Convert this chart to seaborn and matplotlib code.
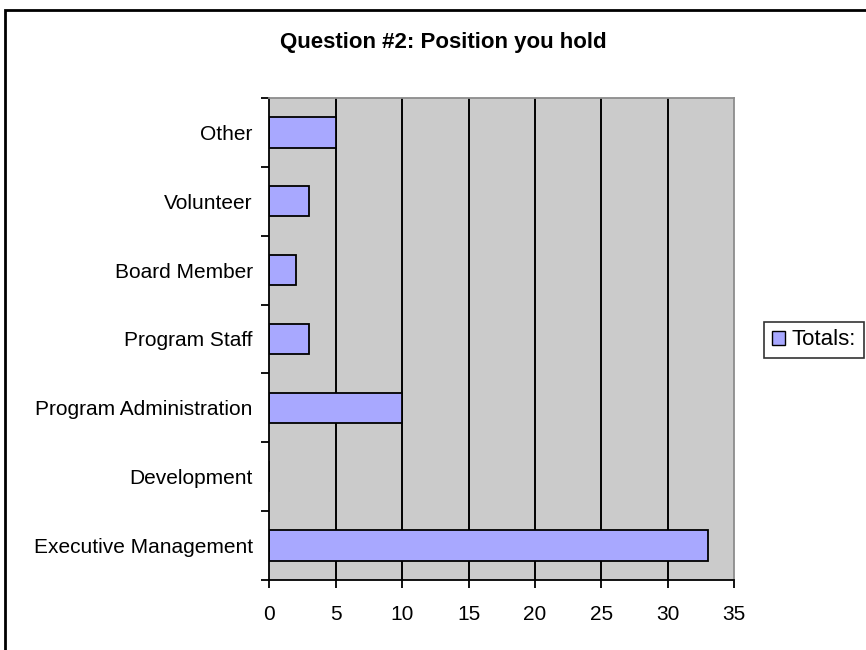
import matplotlib
matplotlib.use("Agg")
import matplotlib.pyplot as plt
from matplotlib.patches import Patch, Rectangle
import numpy as np
import pandas as pd
import seaborn as sns

# data, top to bottom as in the chart
positions = ["Other", "Volunteer", "Board Member", "Program Staff",
             "Program Administration", "Development", "Executive Management"]
totals = [5, 3, 2, 3, 10, 0, 33]
x_ticks = [0, 5, 10, 15, 20, 25, 30, 35]

df = pd.DataFrame({"position": positions, "total": totals})

sns.set_style("white")
plt.rcParams["font.family"] = ["Liberation Sans", "DejaVu Sans"]
plt.rcParams["text.color"] = "black"
plt.rcParams["xtick.color"] = "black"
plt.rcParams["ytick.color"] = "black"

fig = plt.figure(figsize=(8.66, 6.5), dpi=100)
ax = fig.add_axes([0.311, 0.108, 0.537, 0.741])
ax.patch.set_facecolor("#CBCBCB")

sns.barplot(data=df, x="total", y="position", order=positions, orient="h",
            color="#A8A8FF", saturation=1, edgecolor="black", linewidth=1.3,
            width=0.44, ax=ax)

ax.set_xlim(0, 35)
ax.set_ylim(len(positions) - 0.5, -0.5)
ax.set_xticks(x_ticks)
ax.set_xticklabels([str(t) for t in x_ticks], fontsize=15)
for t in x_ticks[1:-1]:
    ax.axvline(t, color="black", lw=1.4, zorder=0.5)

# ticks between categories, labels at the centres
ax.set_yticks(np.arange(-0.5, len(positions), 1))
ax.set_yticklabels([])
ax.set_yticks(np.arange(len(positions)), minor=True)
ax.set_yticklabels(positions, minor=True, fontsize=15)
ax.tick_params(axis="y", which="minor", length=0, pad=12)
ax.tick_params(axis="y", which="major", length=6, width=1.3, direction="out", left=True)
ax.tick_params(axis="x", length=6, width=1.3, direction="out", bottom=True, pad=12)
ax.set_xlabel("")
ax.set_ylabel("")

for side in ["left", "bottom"]:
    ax.spines[side].set_color("black")
    ax.spines[side].set_linewidth(1.3)
for side in ["top", "right"]:
    ax.spines[side].set_visible(True)
    ax.spines[side].set_color("#8C8C8C")
    ax.spines[side].set_linewidth(1.3)

fig.text(0.512, 0.935, "Question #2: Position you hold", ha="center", va="center",
         fontsize=16, fontweight="bold")

leg = fig.legend(handles=[Patch(facecolor="#A8A8FF", edgecolor="black", label="Totals:")],
                 loc="center left", bbox_to_anchor=(0.882, 0.477), fontsize=16,
                 fancybox=False, frameon=True, handlelength=0.6, handleheight=0.6,
                 handletextpad=0.3, borderpad=0.35, borderaxespad=0)
leg.get_frame().set_edgecolor("black")
leg.get_frame().set_linewidth(1.2)

# outer chart border (bottom runs off the picture)
fig.patches.append(Rectangle((0.006, -0.1), 1.2, 1.085, transform=fig.transFigure,
                             fill=False, edgecolor="black", lw=2, clip_on=False))

fig.savefig("out.png", dpi=100)
